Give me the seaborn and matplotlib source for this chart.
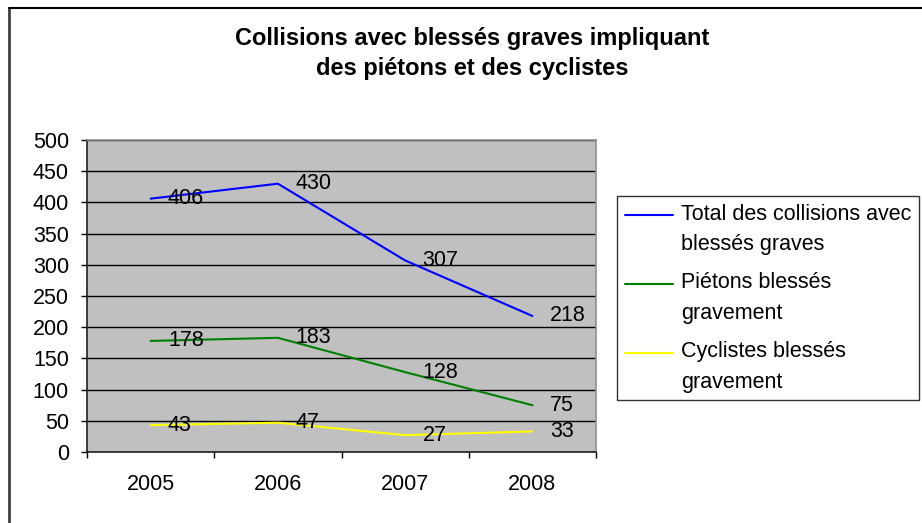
import matplotlib
matplotlib.use("Agg")
import matplotlib.pyplot as plt
import numpy as np
import pandas as pd
import seaborn as sns
from matplotlib.lines import Line2D
from matplotlib.legend_handler import HandlerLine2D

YEARS = ["2005", "2006", "2007", "2008"]
TOTAL = [406, 430, 307, 218]
PIETONS = [178, 183, 128, 75]
CYCLISTES = [43, 47, 27, 33]
SERIES = [
    "Total des collisions avec\nblessés graves",
    "Piétons blessés\ngravement",
    "Cyclistes blessés\ngravement",
]
COLORS = ["#0000FF", "#008000", "#FFFF00"]
TITLE = "Collisions avec blessés graves impliquant\ndes piétons et des cyclistes"

W, H = 922, 523
FS = 15.5
LEG_LS = 1.6
LEG_SHIFT_PT = 29.5 * 0.72 / 2  # half the distance between two label lines


class FirstLineHandler(HandlerLine2D):
    """Put the legend line next to the first line of a two-line label."""

    def create_artists(self, legend, orig_handle, xdescent, ydescent,
                       width, height, fontsize, trans):
        arts = super().create_artists(legend, orig_handle, xdescent, ydescent,
                                      width, height, fontsize, trans)
        for a in arts:
            a.set_ydata(np.asarray(a.get_ydata()) + LEG_SHIFT_PT)
        return arts


def main() -> None:
    sns.set_theme(style="white")
    plt.rcParams.update({
        "text.color": "black",
        "xtick.color": "black",
        "ytick.color": "black",
        "axes.labelcolor": "black",
    })
    plt.rcParams["font.family"] = ["Liberation Sans", "DejaVu Sans"]

    df = pd.DataFrame({
        "year": YEARS * 3,
        "value": TOTAL + PIETONS + CYCLISTES,
        "serie": [s for s in SERIES for _ in YEARS],
    })

    fig = plt.figure(figsize=(W / 100, H / 100), dpi=100)
    ax = fig.add_axes([87 / W, (H - 452) / H, (596 - 87) / W, (452 - 140) / H])
    ax.set_facecolor("#C0C0C0")

    sns.lineplot(data=df, x="year", y="value", hue="serie", palette=COLORS,
                 linewidth=1.5, ax=ax, legend=False, sort=False)

    for vals in (TOTAL, PIETONS, CYCLISTES):
        for i, v in enumerate(vals):
            ax.annotate(str(v), (i, v), xytext=(12.5, 0), textcoords="offset points",
                        ha="left", va="center", fontsize=FS, color="black")

    ax.set_xlim(-0.5, len(YEARS) - 0.5)
    ax.set_ylim(0, 500)
    ax.set_yticks(range(0, 501, 50))
    ax.yaxis.grid(True, color="black", linewidth=1)
    ax.xaxis.grid(False)
    ax.set_axisbelow(True)

    ax.set_xticks(np.arange(-0.5, len(YEARS), 1.0))
    ax.set_xticklabels([])
    ax.set_xticks(range(len(YEARS)), minor=True)
    ax.set_xticklabels(YEARS, minor=True)
    ax.tick_params(axis="x", which="major", direction="out", length=4.5, width=1,
                   color="black", bottom=True)
    ax.tick_params(axis="x", which="minor", length=0, pad=16, labelsize=FS,
                   labelcolor="black")
    ax.tick_params(axis="y", direction="out", length=4.5, width=1, color="black",
                   left=True, pad=8.5, labelsize=FS, labelcolor="black")
    ax.set_xlabel("")
    ax.set_ylabel("")

    for side in ("left", "bottom"):
        ax.spines[side].set_color("#202020")
        ax.spines[side].set_linewidth(1.2)
    for side in ("top", "right"):
        ax.spines[side].set_color("#909090")
        ax.spines[side].set_linewidth(1.2)

    handles = [Line2D([], [], color=c, linewidth=1.5) for c in COLORS]
    leg = fig.legend(handles, SERIES, loc="upper left",
                     bbox_to_anchor=(617 / W, 1 - 196 / H), bbox_transform=fig.transFigure,
                     borderaxespad=0, fontsize=FS, frameon=True, fancybox=False,
                     handlelength=2.25, handletextpad=0.37, borderpad=0.35,
                     labelspacing=0.8,
                     handler_map={Line2D: FirstLineHandler()})
    leg.get_frame().set_edgecolor("black")
    leg.get_frame().set_linewidth(1)
    leg.get_frame().set_facecolor("white")
    for t in leg.get_texts():
        t.set_linespacing(LEG_LS)
        t.set_color("black")

    fig.text(472 / W, 1 - 53.5 / H, TITLE, ha="center", va="center", color="black",
             fontsize=17, fontweight="bold", linespacing=1.42)

    # chart area frame (only left and top edges visible)
    fig.add_artist(Line2D([9 / W, 9 / W], [0, 1 - 8 / H], transform=fig.transFigure,
                          color="#404040", linewidth=2))
    fig.add_artist(Line2D([9 / W, 1], [1 - 8 / H, 1 - 8 / H], transform=fig.transFigure,
                          color="black", linewidth=1.5))

    fig.savefig("out.png", dpi=100)
    plt.close(fig)


if __name__ == "__main__":
    main()
